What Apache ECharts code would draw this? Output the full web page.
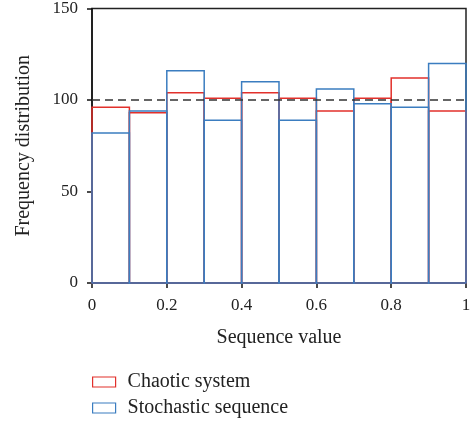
<!DOCTYPE html>
<html>
<head>
<meta charset="utf-8">
<script src="https://cdn.jsdelivr.net/npm/echarts@6/dist/echarts.min.js"></script>
<style>
  html, body { margin: 0; padding: 0; background: #fff; }
  #chart { width: 476px; height: 423px; }
</style>
</head>
<body>
<div id="chart"></div>
<script>
// Histogram bin edges (10 equal bins over [0, 1])
const binEdges = [0, 0.1, 0.2, 0.3, 0.4, 0.5, 0.6, 0.7, 0.8, 0.9, 1.0];
// Counts per bin
const chaoticCounts = [96, 93, 104, 101, 104, 101, 94, 101, 112, 94];
const stochasticCounts = [82, 94, 116, 89, 110, 89, 106, 98, 96, 120];
// Expected uniform frequency
const expectedLevel = 100;
const xTicks = [0, 0.2, 0.4, 0.6, 0.8, 1];
const yTicks = [0, 50, 100, 150];

const FONT = '"Liberation Serif", "DejaVu Serif", serif';
const RED = '#e2302b';
const BLUE = '#3b7dc0';

function binData(counts) {
  return counts.map((v, i) => [binEdges[i], binEdges[i + 1], v]);
}

function outlineBars(color) {
  return function (params, api) {
    const p0 = api.coord([api.value(0), api.value(2)]);
    const p1 = api.coord([api.value(1), 0]);
    return {
      type: 'rect',
      shape: { x: p0[0], y: p0[1], width: p1[0] - p0[0], height: p1[1] - p0[1] },
      style: { fill: 'none', stroke: color, lineWidth: 1.5 }
    };
  };
}

function legendBlock(name, color, top) {
  return {
    left: 92, top: top, padding: 0,
    itemWidth: 23, itemHeight: 10,
    textStyle: { fontFamily: FONT, fontSize: 20, lineHeight: 20, color: '#222', padding: [0, 0, 0, 7] },
    data: [{ name: name, icon: 'rect', itemStyle: { color: '#fff', borderColor: color, borderWidth: 1.2 } }]
  };
}

const chart = echarts.init(document.getElementById('chart'));
chart.setOption({
  animation: false,
  textStyle: { fontFamily: FONT },
  grid: {
    left: 92, right: 10, top: 8, bottom: 140,
    show: true, borderColor: '#222', borderWidth: 1.5, backgroundColor: 'transparent'
  },
  legend: [
    legendBlock('Chaotic system', RED, 372),
    legendBlock('Stochastic sequence', BLUE, 398)
  ],
  xAxis: {
    type: 'value', min: 0, max: 1, interval: 0.2,
    name: 'Sequence value', nameLocation: 'middle', nameGap: 45,
    nameTextStyle: { fontFamily: FONT, fontSize: 20, color: '#222' },
    axisLine: { lineStyle: { color: '#111', width: 1.5 } },
    axisTick: { show: true, length: 5, lineStyle: { color: '#111', width: 1.5 } },
    axisLabel: {
      fontFamily: FONT, fontSize: 17, color: '#222', margin: 14,
      formatter: v => (xTicks.includes(+v.toFixed(1)) ? String(+v.toFixed(1)) : '')
    },
    splitLine: { show: false }
  },
  yAxis: {
    type: 'value', min: 0, max: 150, interval: 50,
    name: 'Frequency distribution', nameLocation: 'middle', nameGap: 58,
    nameTextStyle: { fontFamily: FONT, fontSize: 20, color: '#222' },
    axisLine: { show: true, lineStyle: { color: '#111', width: 1.5 } },
    axisTick: { show: true, length: 5, lineStyle: { color: '#111', width: 1.5 } },
    axisLabel: {
      fontFamily: FONT, fontSize: 17, color: '#222', margin: 14,
      formatter: v => (yTicks.includes(v) ? String(v) : '')
    },
    splitLine: { show: false }
  },
  series: [
    {
      name: 'Chaotic system', type: 'custom', renderItem: outlineBars(RED),
      encode: { x: [0, 1], y: 2 }, data: binData(chaoticCounts), z: 2
    },
    {
      name: 'Stochastic sequence', type: 'custom', renderItem: outlineBars(BLUE),
      encode: { x: [0, 1], y: 2 }, data: binData(stochasticCounts), z: 3,
      markLine: {
        silent: true, symbol: 'none', label: { show: false },
        lineStyle: { color: '#333', type: [8, 5], width: 1.5 },
        data: [{ yAxis: expectedLevel }]
      }
    }
  ]
});
</script>
</body>
</html>
